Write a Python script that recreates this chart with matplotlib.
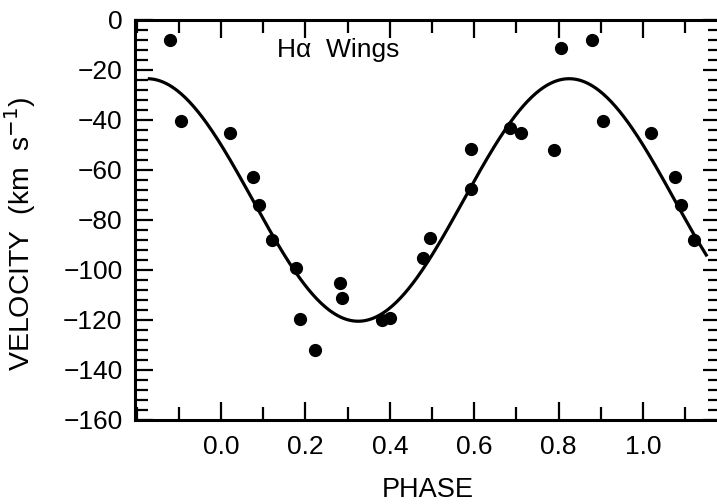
import numpy as np
import matplotlib
matplotlib.use("Agg")
import matplotlib.pyplot as plt
from matplotlib.ticker import MultipleLocator, FixedLocator, FormatStrFormatter

# phase-folded H-alpha wing velocities (one cycle)
phase = [0.020, 0.076, 0.090, 0.120, 0.177, 0.187, 0.223, 0.282, 0.286,
         0.381, 0.400, 0.479, 0.495, 0.592, 0.592, 0.686, 0.710, 0.789,
         0.806, 0.880, 0.906]
velocity = [-45.3, -63.0, -73.9, -88.0, -99.3, -119.6, -132.0, -105.1, -111.1,
            -120.0, -119.3, -95.3, -87.3, -51.7, -67.7, -43.1, -45.1, -52.0,
            -11.1, -8.2, -40.5]

# sine fit
gamma = -72.0
K = 48.5
phase_max = 0.825
curve_range = (-0.17, 1.15)

xticks = [0.0, 0.2, 0.4, 0.6, 0.8, 1.0]
yticks = [0, -20, -40, -60, -80, -100, -120, -140, -160]

plt.rcParams['font.family'] = ['Liberation Sans', 'DejaVu Sans']

# repeat points that fall inside the plotted phase range
px, py = [], []
for p, v in zip(phase, velocity):
    for shift in (-1, 0, 1):
        q = p + shift
        if curve_range[0] <= q <= curve_range[1]:
            px.append(q)
            py.append(v)

fig = plt.figure(figsize=(7.17, 5.04), dpi=100)
ax = fig.add_axes([0.1883, 0.1667, 0.8173, 0.7937])

ph = np.linspace(curve_range[0], curve_range[1], 400)
ax.plot(ph, gamma + K * np.cos(2 * np.pi * (ph - phase_max)), color='black', lw=2.3)
ax.plot(px, py, 'o', color='black', ms=8.5)

ax.set_xlim(-0.204, 1.185)
ax.set_ylim(-160, 0)

ax.xaxis.set_major_locator(FixedLocator(xticks))
ax.xaxis.set_minor_locator(MultipleLocator(0.1))
ax.xaxis.set_major_formatter(FormatStrFormatter('%.1f'))
ax.yaxis.set_major_locator(FixedLocator(yticks))
ax.yaxis.set_minor_locator(MultipleLocator(4))

ax.tick_params(which='both', direction='in', top=True, right=True, width=1.6)
ax.tick_params(which='major', length=13, labelsize=19)
ax.tick_params(which='minor', length=9.5)
ax.tick_params(axis='x', which='major', pad=11)
ax.tick_params(axis='y', which='major', pad=9)
for s in ax.spines.values():
    s.set_linewidth(2.2)

ax.set_xlabel('PHASE', fontsize=19.5, labelpad=13)
ax.set_ylabel('VELOCITY  (km  s$^{-1}$)', fontsize=20.5)
ax.yaxis.set_label_coords(-0.166, 0.465)
ax.text(0.242, 0.925, 'H\u03b1  Wings', transform=ax.transAxes, fontsize=19,
        ha='left', va='center')

fig.savefig('out.png', dpi=100)
